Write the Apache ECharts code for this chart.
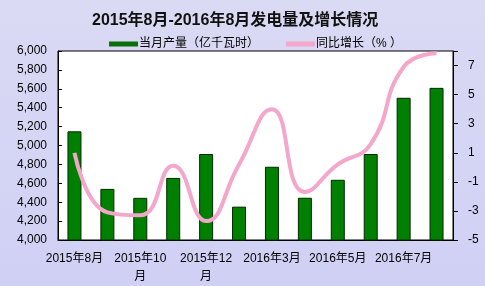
<!DOCTYPE html>
<html>
<head>
<meta charset="utf-8">
<script src="https://cdn.jsdelivr.net/npm/echarts@6/dist/echarts.min.js"></script>
<style>
html,body{margin:0;padding:0;}
#c{width:485px;height:286px;}
</style>
</head>
<body>
<div id="c"></div>
<script>
const titleText = '2015年8月-2016年8月发电量及增长情况';
const categories = ['2015年8月','2015年9月','2015年10月','2015年11月','2015年12月','2016年2月','2016年3月','2016年4月','2016年5月','2016年6月','2016年7月','2016年8月'];
const outputName = '当月产量（亿千瓦时）';
const growthName = '同比增长（% ）';
const outputValues = [5150, 4541, 4446, 4657, 4910, 4353, 4775, 4447, 4637, 4910, 5505, 5610];
const growthValues = [1.0, -3.1, -3.3, 0.1, -3.7, 0.2, 4.0, -1.7, 0.2, 1.6, 6.9, 7.85];
const leftTicks = {min: 4000, max: 6000, interval: 200};
const rightTicks = {min: -5, max: 8, interval: 2};

const chart = echarts.init(document.getElementById('c'));
const font = 'Arial, "Liberation Sans", "Noto Sans CJK SC", sans-serif';
function commas(v){ return String(v).replace(/\B(?=(\d{3})+(?!\d))/g, ','); }
chart.setOption({
  backgroundColor: {type:'linear', x:0, y:0, x2:0, y2:1, colorStops:[{offset:0,color:'#dadaf4'},{offset:1,color:'#d0d0f5'}]},
  textStyle: {fontFamily: font},
  title: {
    text: titleText, left: 87, top: 8,
    textStyle: {fontSize: 16, fontWeight: 'bold', color: '#111', fontFamily: font}
  },
  legend: {
    top: 33, left: 104, itemGap: 27, itemWidth: 29, itemHeight: 5,
    textStyle: {fontSize: 12, color: '#000', padding: [0,0,0,-4]},
    data: [
      {name: outputName, icon: 'rect', itemStyle: {color: '#0a6e0a', borderWidth: 0}},
      {name: growthName, icon: 'roundRect', itemStyle: {color: '#f4a6cb'}}
    ]
  },
  grid: {left: 58, right: 32, top: 51, bottom: 44, show: true, backgroundColor: '#fff', borderColor: '#000', borderWidth: 1},
  xAxis: {
    type: 'category', data: categories,
    axisLine: {onZero: false, lineStyle: {color: '#000'}},
    axisTick: {inside: true, length: 4, interval: 0, lineStyle: {color: '#000'}},
    axisLabel: {
      interval: 1, margin: 10, fontSize: 12, color: '#000', lineHeight: 18,
      formatter: v => v.length > 7 ? v.slice(0,7) + '\n' + v.slice(7) : v
    }
  },
  yAxis: [
    {
      type: 'value', min: leftTicks.min, max: leftTicks.max, interval: leftTicks.interval,
      splitLine: {show: false},
      axisLine: {show: true, lineStyle: {color: '#000'}},
      axisTick: {show: true, inside: true, length: 4, lineStyle: {color: '#000'}},
      axisLabel: {margin: 11, fontSize: 12, color: '#000', formatter: v => commas(v)}
    },
    {
      type: 'value', min: rightTicks.min, max: rightTicks.max, interval: rightTicks.interval,
      splitLine: {show: false},
      axisLine: {show: true, lineStyle: {color: '#000'}},
      axisTick: {show: true, inside: false, length: 5, lineStyle: {color: '#000'}},
      axisLabel: {margin: 15, fontSize: 12, color: '#000', formatter: v => v === rightTicks.max ? '' : String(v)}
    }
  ],
  series: [
    {
      name: outputName, type: 'bar', data: outputValues, barWidth: 14,
      itemStyle: {color: '#008000', borderColor: '#002a00', borderWidth: 1}
    },
    {
      name: growthName, type: 'line', yAxisIndex: 1, data: growthValues, smooth: 0.5,
      showSymbol: false, symbol: 'none',
      lineStyle: {color: '#f4a6cb', width: 4},
      itemStyle: {color: '#f4a6cb'}
    }
  ]
});
</script>
</body>
</html>
